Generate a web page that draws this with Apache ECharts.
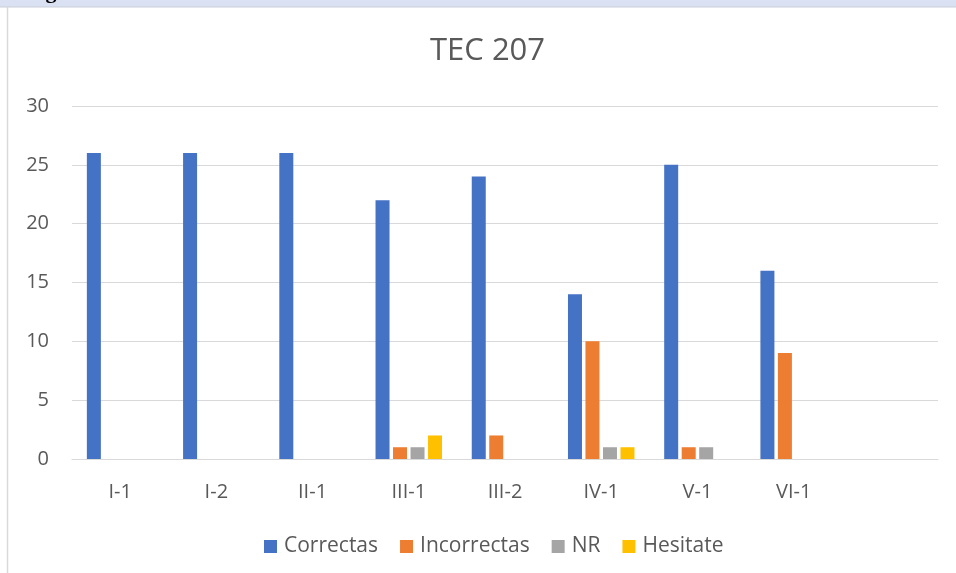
<!DOCTYPE html>
<html>
<head>
<meta charset="utf-8">
<script src="https://cdn.jsdelivr.net/npm/echarts@6/dist/echarts.min.js"></script>
<style>
html,body{margin:0;padding:0;background:#fff;}
#chart{width:956px;height:573px;}
</style>
</head>
<body>
<div id="chart"></div>
<script>
const categories = ['I-1','I-2','II-1','III-1','III-2','IV-1','V-1','VI-1',''];
const correctas = [26,26,26,22,24,14,25,16,null];
const incorrectas = [0,0,0,1,2,10,1,9,null];
const nr = [0,0,0,1,0,1,1,0,null];
const hesitate = [0,0,0,2,0,1,0,0,null];
const seriesNames = ['Correctas','Incorrectas','NR','Hesitate'];
const yTicks = [0,5,10,15,20,25,30];
const titleText = 'TEC 207';

const colors = ['#4472C4','#ED7D31','#A5A5A5','#FFC000'];
const font = '"Open Sans", "Noto Sans", sans-serif';
const chart = echarts.init(document.getElementById('chart'), null, {renderer:'canvas'});
const dataSets = [correctas, incorrectas, nr, hesitate];

chart.setOption({
  animation:false,
  backgroundColor:'#fff',
  color:colors,
  title:{text:titleText,left:425,top:31,textStyle:{fontFamily:font,fontSize:31,fontWeight:'normal',color:'#595959'}},
  legend:{bottom:11,left:259,itemWidth:13,itemHeight:13,itemGap:22,icon:'rect',
    textStyle:{fontFamily:font,fontSize:21,color:'#595959',padding:[0,0,0,2]},data:seriesNames},
  grid:{left:72,right:18,top:106,bottom:114,containLabel:false},
  xAxis:{type:'category',data:categories,
    axisLine:{lineStyle:{color:'#D9D9D9',width:1}},axisTick:{show:false},
    axisLabel:{fontFamily:font,fontSize:20,color:'#595959',margin:23,interval:0}},
  yAxis:{type:'value',min:yTicks[0],max:yTicks[yTicks.length-1],interval:5,
    axisLine:{show:false},axisTick:{show:false},
    splitLine:{lineStyle:{color:'#D9D9D9',width:1}},
    axisLabel:{fontFamily:font,fontSize:20,color:'#595959',margin:23}},
  graphic:[
    {type:'rect',shape:{x:0,y:0,width:956,height:7},style:{fill:'#D9E1F2'},z:1},
    {type:'line',shape:{x1:0,y1:7,x2:956,y2:7},style:{stroke:'#C9CED8',lineWidth:1},z:2},
    {type:'line',shape:{x1:7.5,y1:7,x2:7.5,y2:573},style:{stroke:'#D9D9D9',lineWidth:1.5},z:2},
    {type:'text',x:-8,y:-19,style:{text:'Total general',font:'bold 22px "Liberation Serif", serif',fill:'#000'},z:3}
  ],
  series:seriesNames.map((n,i)=>({
    name:n,type:'bar',data:dataSets[i],barWidth:14,barGap:'25%',
    itemStyle:{color:colors[i]}
  }))
});
</script>
</body>
</html>
